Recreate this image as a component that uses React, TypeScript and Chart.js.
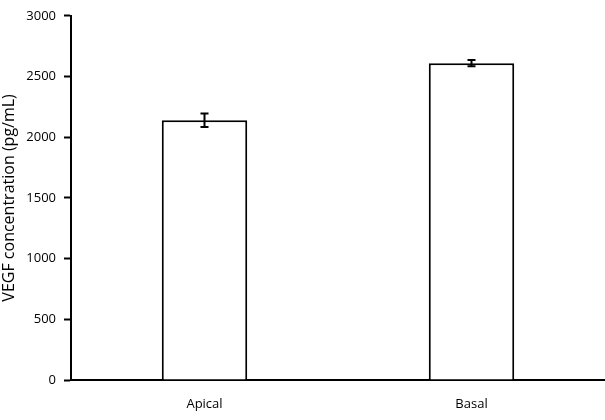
import React, { useEffect, useRef } from "react";
import { Chart, registerables } from "chart.js";

Chart.register(...registerables);

const categories = ["Apical", "Basal"];
const values = [2140, 2610];
const errors = [55, 25];
const yTicks = [0, 500, 1000, 1500, 2000, 2500, 3000];

const FONT = "'Open Sans', 'Liberation Sans', sans-serif";

const errorBarPlugin = {
  id: "errorBars",
  afterDatasetsDraw(chart: any) {
    const ctx = chart.ctx;
    const y = chart.scales.y;
    const meta = chart.getDatasetMeta(0);
    ctx.save();
    ctx.strokeStyle = "#000";
    ctx.lineWidth = 2;
    meta.data.forEach((bar: any, i: number) => {
      const x = bar.x;
      const top = y.getPixelForValue(values[i] + errors[i]);
      const bottom = y.getPixelForValue(values[i] - errors[i]);
      ctx.beginPath();
      ctx.moveTo(x, top);
      ctx.lineTo(x, bottom);
      ctx.moveTo(x - 4, top);
      ctx.lineTo(x + 4, top);
      ctx.moveTo(x - 4, bottom);
      ctx.lineTo(x + 4, bottom);
      ctx.stroke();
    });
    ctx.restore();
  },
};

const App = () => {
  const canvasRef = useRef(null);

  useEffect(() => {
    document.body.style.margin = "0";
    const ctx = (canvasRef.current as HTMLCanvasElement | null)?.getContext(
      "2d"
    ) as CanvasRenderingContext2D;

    const chart = new Chart(ctx, {
      type: "bar",
      data: {
        labels: categories,
        datasets: [
          {
            data: values,
            backgroundColor: "#ffffff",
            borderColor: "#000000",
            borderWidth: 2,
            barPercentage: 0.32,
            categoryPercentage: 1,
          },
        ],
      },
      options: {
        animation: false,
        responsive: false,
        layout: { padding: { top: 13, right: 0, left: 0, bottom: 0 } },
        plugins: {
          legend: { display: false },
          tooltip: { enabled: false },
        },
        scales: {
          x: {
            grid: { display: false, drawTicks: false },
            border: { color: "#000", width: 2 },
            ticks: {
              color: "#000",
              padding: 16,
              font: { family: FONT, size: 13 },
            },
            afterFit: (scale: any) => {
              scale.height = 40;
            },
          },
          y: {
            min: 0,
            max: 3000,
            afterBuildTicks: (scale: any) => {
              scale.ticks = yTicks.map((v) => ({ value: v }));
            },
            grid: {
              drawOnChartArea: false,
              tickLength: 7,
              tickColor: "#000",
              tickWidth: 2,
            },
            border: { color: "#000", width: 2 },
            ticks: {
              color: "#000",
              padding: 8,
              font: { family: FONT, size: 13 },
              callback: (v: any) => String(v),
            },
            title: {
              display: true,
              text: "VEGF concentration (pg/mL)",
              color: "#000",
              font: { family: FONT, size: 16 },
              padding: { top: 0, bottom: 2 },
            },
            afterFit: (scale: any) => {
              scale.width = 71;
            },
          },
        },
      },
      plugins: [errorBarPlugin],
    } as any);

    return () => {
      chart.destroy();
    };
  }, []);

  return (
    <div style={{ width: 605, height: 420, background: "#fff" }}>
      <canvas ref={canvasRef} width={605} height={420} />
    </div>
  );
};

export default App;
